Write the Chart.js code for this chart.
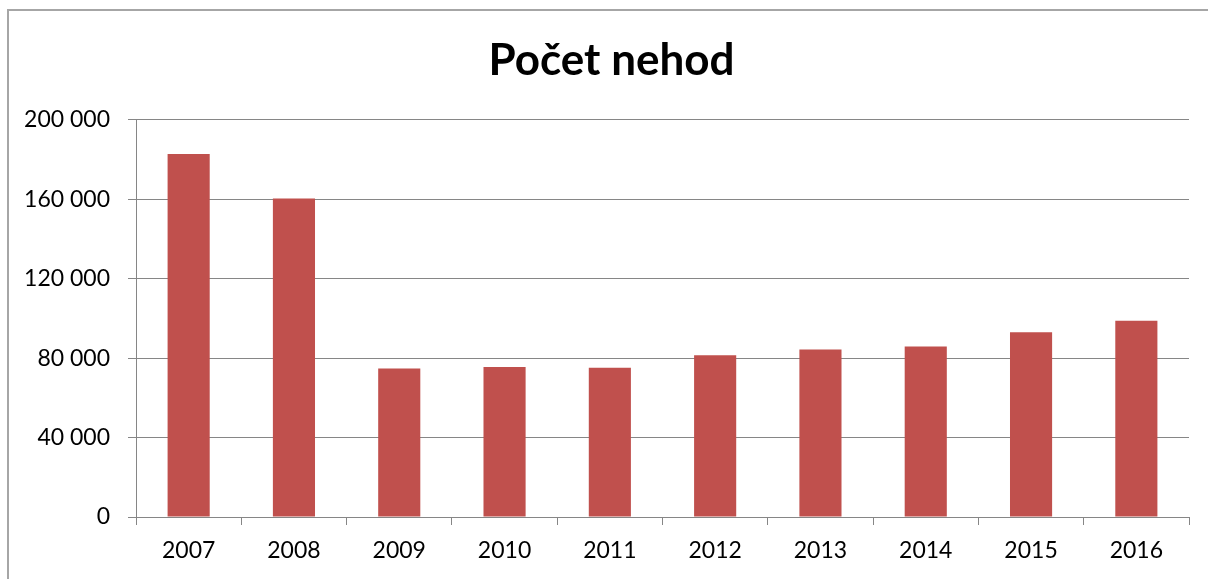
<!DOCTYPE html>
<html>
<head>
<meta charset="utf-8">
<script src="https://cdn.jsdelivr.net/npm/chart.js@4"></script>
<style>
    html, body { margin: 0; padding: 0; background: #fff; overflow: hidden; }
    #wrap { position: relative; width: 1208px; height: 579px; }
    #frame { position: absolute; left: 7px; top: 9px; width: 1300px; height: 700px;
             border-left: 2px solid #a6a6a6; border-top: 2px solid #a6a6a6; }
    canvas { position: absolute; left: 0; top: 0; }
</style>
</head>
<body>
<div id="wrap">
    <div id="frame"></div>
    <canvas id="nehodyChart" width="1208" height="579"></canvas>
</div>
<script>
    // roky a počty nehod
    const years = ['2007', '2008', '2009', '2010', '2011', '2012', '2013', '2014', '2015', '2016'];
    const accidents = [182736, 160376, 74815, 75522, 75137, 81404, 84398, 85859, 93067, 98864];
    const yTicks = [0, 40000, 80000, 120000, 160000, 200000];

    const gridGray = '#868686';
    const fontFamily = 'Lato, "Open Sans", sans-serif';

    // posune nadpis trochu doprava (jako v originále)
    const posunNadpisu = {
        id: 'posunNadpisu',
        afterLayout(chart) {
            if (chart.titleBlock) chart.titleBlock.left += 34;
        }
    };

    const ctx = document.getElementById('nehodyChart').getContext('2d');
    new Chart(ctx, {
        type: 'bar',
        data: {
            labels: years,
            datasets: [{
                label: 'Počet nehod',
                data: accidents,
                backgroundColor: '#C0504D',
                categoryPercentage: 1,
                barPercentage: 0.4
            }]
        },
        options: {
            responsive: false,
            animation: false,
            layout: { padding: { left: 0, right: 19, top: 0, bottom: 0 } },
            plugins: {
                legend: { display: false },
                tooltip: { enabled: false },
                title: {
                    display: true,
                    text: 'Počet nehod',
                    color: '#000',
                    font: { family: fontFamily, size: 44, weight: 'bold', lineHeight: 1.2 },
                    padding: { top: 34, bottom: 33 }
                }
            },
            scales: {
                x: {
                    offset: true,
                    grid: { drawOnChartArea: false, drawTicks: true, tickLength: 8, color: gridGray, offset: true },
                    border: { color: gridGray, width: 1 },
                    ticks: { color: '#000', padding: 12, font: { family: fontFamily, size: 23 }, maxRotation: 0 },
                    afterFit: s => { s.height = 62; }
                },
                y: {
                    min: 0,
                    max: 200000,
                    afterBuildTicks: s => { s.ticks = yTicks.map(v => ({ value: v })); },
                    grid: { color: gridGray, tickLength: 8, drawTicks: true },
                    border: { color: gridGray, width: 1 },
                    ticks: {
                        color: '#000',
                        padding: 18,
                        font: { family: fontFamily, size: 23 },
                        callback: v => String(v).replace(/\B(?=(\d{3})+(?!\d))/g, ' ')
                    },
                    afterFit: s => { s.width = 136; }
                }
            }
        },
        plugins: [posunNadpisu]
    });
</script>
</body>
</html>
